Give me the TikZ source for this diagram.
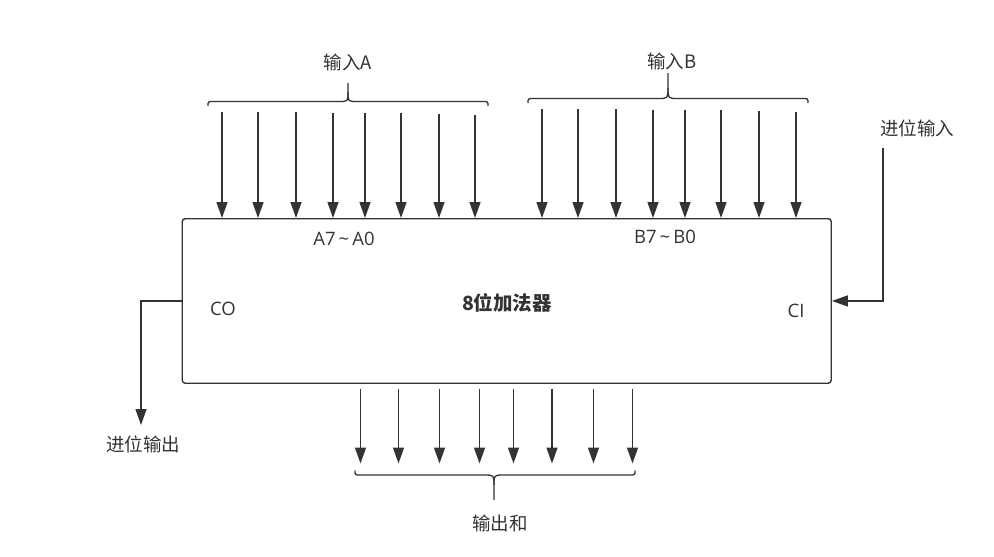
\documentclass[tikz,border=0pt]{standalone}
\usepackage{fontspec}
\setmainfont{Open Sans}
\newfontfamily\cjk{Noto Sans CJK SC}
\usetikzlibrary{arrows.meta}
\definecolor{ink}{HTML}{333333}
\tikzset{
  wire/.style={draw=ink, line width=1.4pt},
  sig/.style={wire, -{Triangle[length=16pt,width=11pt]}},
  bracepath/.style={draw=ink, line width=1.3pt},
  lbl/.style={text=ink, font=\cjk\fontsize{18.5}{20}\selectfont, inner sep=0pt},
  latin/.style={text=ink, font=\fontsize{18.5}{20}\selectfont, inner sep=0pt},
  title/.style={text=ink, font=\cjk\bfseries\fontsize{19.5}{21}\selectfont, inner sep=0pt},
  adderbox/.style={draw=ink, line width=1.4pt, rounded corners=3pt, inner sep=0pt,
    minimum width=649pt, minimum height=164.5pt, anchor=north west}
}
\begin{document}
\begin{tikzpicture}[x=1pt,y=-1pt]
\useasboundingbox (0,0) rectangle (994,557);

% main box
\node[adderbox] (add) at (181.5,218) {};
\node[title] (ttl) at (507,302.5) {8位加法器};
\node[latin] (la) at (344,239) {A7\,\char`\~\,A0};
\node[latin] (lb) at (665,237) {B7\,\char`\~\,B0};
\node[latin] (co) at (223,309) {CO};
\node[latin] (ci) at (796,311) {CI};

% input A
\foreach \x/\t [count=\i] in {222/112,258/112,296/112,333/113,365/113,401/113,439/114,475/115}{
  \coordinate (a\i) at (\x,\t);
  \draw[sig] (a\i) -- (a\i |- add.north);
}
\draw[bracepath] (208,106) .. controls (208,101.5) .. (214,101.5) -- (339,101.5)
  .. controls (348,101.5) .. (348,92) -- (348,83);
\draw[bracepath] (488,106) .. controls (488,101.5) .. (482,101.5) -- (357,101.5)
  .. controls (348,101.5) .. (348,92);
\node[lbl] (ina) at (348,62) {输入A};

% input B
\foreach \x/\t [count=\i] in {542/109,578/109,616/109,653/110,685/110,721/110,759/111,796/112}{
  \coordinate (b\i) at (\x,\t);
  \draw[sig] (b\i) -- (b\i |- add.north);
}
\draw[bracepath] (528,103) .. controls (528,98.5) .. (534,98.5) -- (658,98.5)
  .. controls (668,98.5) .. (668,88) -- (668,73);
\draw[bracepath] (808,103) .. controls (808,98.5) .. (802,98.5) -- (678,98.5)
  .. controls (668,98.5) .. (668,88);
\node[lbl] (inb) at (672,61) {输入B};

% carry in
\node[lbl] (cinl) at (917,128) {进位输入};
\coordinate (cin) at (883,148);
\draw[sig] (cin) |- (add.east);

% carry out
\coordinate (cout) at (141,425);
\draw[sig] (add.west) -| (cout);
\node[lbl] (coutl) at (143,444) {进位输出};

% sum outputs
\foreach \x [count=\i] in {360.5,398.5,439.5,479.5,513.5,552,593.5,632.5}{
  \coordinate (s\i) at (\x,388.5);
  \coordinate (t\i) at (\x,463.5);
  \draw[sig] (s\i) -- (t\i);
}
\draw[bracepath] (355,470.5) .. controls (355,475) .. (361,475) -- (484,475)
  .. controls (494,475) .. (494,485) -- (494,500);
\draw[bracepath] (635,470.5) .. controls (635,475) .. (629,475) -- (504,475)
  .. controls (494,475) .. (494,485);
\node[lbl] (sum) at (500,523) {输出和};
\end{tikzpicture}
\end{document}
